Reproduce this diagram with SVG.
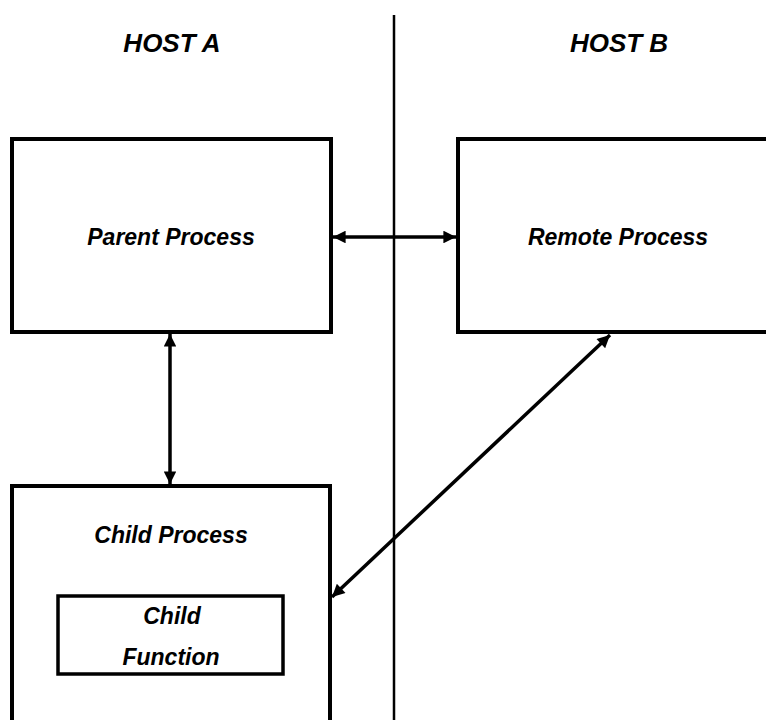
<svg xmlns="http://www.w3.org/2000/svg" width="766" height="720" viewBox="0 0 766 720">
  <style>
    .box { fill: none; stroke: #000; stroke-width: 4; }
    .inner { fill: none; stroke: #000; stroke-width: 3.5; }
    .lbl { font-family: "Liberation Sans", Arial, sans-serif; font-weight: bold; font-style: italic; fill: #000; text-anchor: middle; }
    .conn { stroke: #000; stroke-width: 3.5; fill: none; marker-start: url(#ah); marker-end: url(#ah); }
    .divider { stroke: #000; stroke-width: 2.5; }
  </style>
  <defs>
    <marker id="ah" viewBox="0 0 10 10" refX="10" refY="5" markerWidth="4" markerHeight="3.6" orient="auto-start-reverse" markerUnits="strokeWidth">
      <path d="M0,0 L10,5 L0,10 z" fill="#000"/>
    </marker>
  </defs>
  <rect width="766" height="720" fill="#fff"/>

  <line class="divider" x1="394" y1="15" x2="394" y2="720"/>

  <g id="host-a">
    <text class="lbl" x="172" y="52" font-size="26">HOST A</text>
  </g>
  <g id="host-b">
    <text class="lbl" x="619" y="52" font-size="26">HOST B</text>
  </g>

  <g id="parent-process">
    <rect class="box" x="12" y="139" width="319" height="193"/>
    <text class="lbl" x="171" y="245" font-size="23">Parent Process</text>
  </g>

  <g id="remote-process">
    <rect class="box" x="458" y="139" width="330" height="193"/>
    <text class="lbl" x="618" y="245" font-size="23">Remote Process</text>
  </g>

  <g id="child-process">
    <rect class="box" x="12" y="486" width="318" height="260"/>
    <text class="lbl" x="171" y="543" font-size="23">Child Process</text>
  </g>

  <g id="child-function">
    <rect class="inner" x="58" y="596" width="225" height="78"/>
    <text class="lbl" x="172" y="624" font-size="23">Child</text>
    <text class="lbl" x="171" y="665" font-size="23">Function</text>
  </g>

  <g id="connectors">
    <line class="conn" x1="333" y1="237" x2="456" y2="237"/>
    <line class="conn" x1="170" y1="334" x2="170" y2="484"/>
    <line class="conn" x1="610" y1="335" x2="332" y2="597"/>
  </g>
</svg>
